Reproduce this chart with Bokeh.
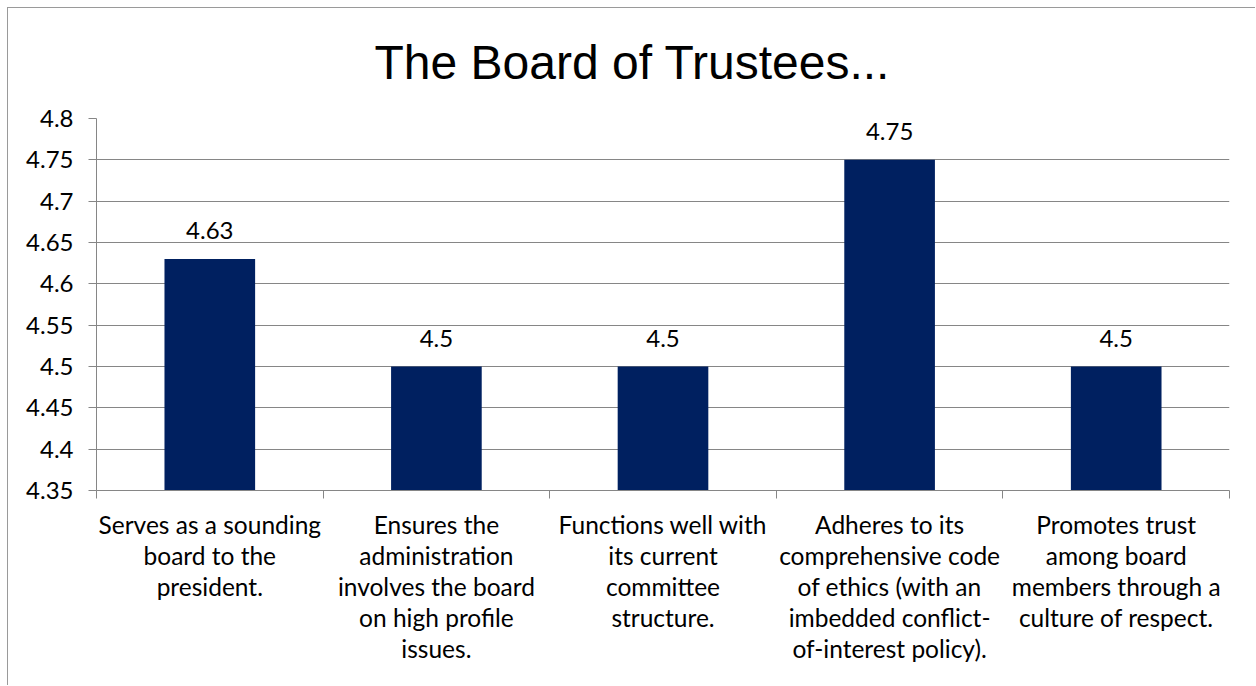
from bokeh.plotting import figure
from bokeh.models import ColumnDataSource, FixedTicker, LabelSet, Range1d
from bokeh.core.properties import value
from bokeh.embed import file_html
from bokeh.resources import INLINE

# ---- data ----
categories = [
    "Serves as a sounding\nboard to the\npresident.",
    "Ensures the\nadministration\ninvolves the board\non high profile\nissues.",
    "Functions well with\nits current\ncommittee\nstructure.",
    "Adheres to its\ncomprehensive code\nof ethics (with an\nimbedded conflict-\nof-interest policy).",
    "Promotes trust\namong board\nmembers through a\nculture of respect.",
]
values = [4.63, 4.5, 4.5, 4.75, 4.5]
value_labels = ["4.63", "4.5", "4.5", "4.75", "4.5"]
y_ticks = [4.35, 4.4, 4.45, 4.5, 4.55, 4.6, 4.65, 4.7, 4.75, 4.8]
y_tick_labels = ["4.35", "4.4", "4.45", "4.5", "4.55", "4.6", "4.65", "4.7", "4.75", "4.8"]
title_text = "The Board of Trustees..."

Y_MIN, Y_MAX = 4.35, 4.8
GRAY = "#868686"
BAR = "#002060"
LABEL_FONT = "Lato"

xs = [i + 0.5 for i in range(len(categories))]
src = ColumnDataSource(dict(x=xs, top=values, bottom=[Y_MIN] * len(values), lab=value_labels))

p = figure(width=1248, height=678, output_backend="svg", toolbar_location=None,
           x_range=Range1d(0, len(categories)), y_range=Range1d(Y_MIN, Y_MAX),
           min_border_left=88, min_border_right=27, min_border_top=109, min_border_bottom=196)
p.styles = {"margin-left": "8px", "margin-top": "8px",
            "box-shadow": "-1px -1px 0 0 #9a9a9a"}
p.outline_line_color = None
p.background_fill_color = "white"
p.border_fill_color = "white"

p.title.text = title_text
p.title.text_font = "Liberation Sans"
p.title.text_font_size = "48px"
p.title.text_font_style = "normal"
p.title.text_color = "black"
p.title.align = "left"
p.title.vertical_align = "top"
p.title.offset = 278
p.title.standoff = 55

p.vbar(x="x", top="top", bottom="bottom", width=0.4, source=src,
       fill_color=BAR, line_color=None)

labels = LabelSet(x="x", y="top", text="lab", source=src, text_align="center",
                  text_baseline="alphabetic", y_offset=20, text_font=value(LABEL_FONT),
                  text_font_size=value("24px"), text_color=value("black"))
p.add_layout(labels)

# x axis
p.xaxis.ticker = FixedTicker(ticks=xs, minor_ticks=list(range(len(categories) + 1)))
p.xaxis.major_label_overrides = {x: c for x, c in zip(xs, categories)}
p.xaxis.major_tick_line_color = None
p.xaxis.minor_tick_line_color = GRAY
p.xaxis.minor_tick_in = 0
p.xaxis.minor_tick_out = 8
p.xaxis.axis_line_color = GRAY
p.xaxis.major_label_text_font = LABEL_FONT
p.xaxis.major_label_text_font_size = "24.5px"
p.xaxis.major_label_text_line_height = 1.07
p.xaxis.major_label_text_color = "black"
p.xaxis.major_label_standoff = 11
p.xaxis.major_label_text_align = "center"

# y axis
p.yaxis.ticker = FixedTicker(ticks=y_ticks)
p.yaxis.major_label_overrides = {t: l for t, l in zip(y_ticks, y_tick_labels)}
p.yaxis.major_tick_in = 0
p.yaxis.major_tick_out = 8
p.yaxis.major_tick_line_color = GRAY
p.yaxis.minor_tick_line_color = None
p.yaxis.axis_line_color = GRAY
p.yaxis.major_label_text_font = LABEL_FONT
p.yaxis.major_label_text_font_size = "24px"
p.yaxis.major_label_text_color = "black"
p.yaxis.major_label_standoff = 15

p.xgrid.grid_line_color = None
p.ygrid.grid_line_color = GRAY
p.ygrid.ticker = FixedTicker(ticks=y_ticks)

open("out.html", "w").write(file_html(p, INLINE))
